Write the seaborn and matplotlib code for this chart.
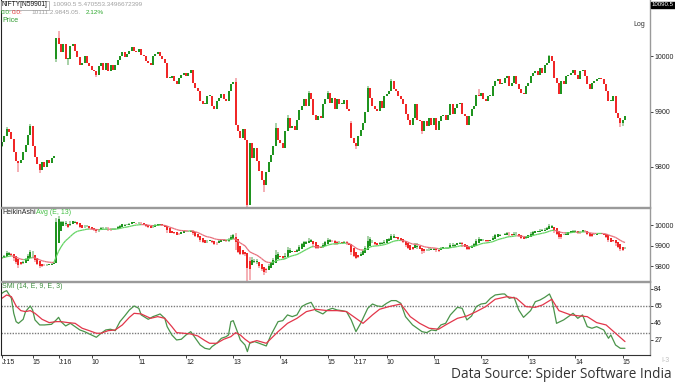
import numpy as np
import pandas as pd
import matplotlib
matplotlib.use("Agg")
import matplotlib.pyplot as plt
from matplotlib.collections import LineCollection
import seaborn as sns

# NIFTY 3-minute closes: tail of J:15, full J:16, J:17 up to 15:00
day1_close = [9845, 9856, 9868, 9862, 9850, 9826, 9810, 9806, 9812, 9826,
              9840, 9858, 9873, 9838, 9818, 9805, 9794, 9808, 9800, 9812,
              9806, 9815, 9819]
day2_close = [10034, 10022, 10007, 10022, 9995, 9995, 10019, 10022, 10010, 9998,
              9985, 9987, 10000, 9988, 9982, 9976, 9973, 9967, 9982, 9988,
              9976, 9988, 9973, 9985, 9976, 9985, 9994, 10000, 10007, 9998,
              10004, 10010, 10016, 10010, 10007, 10013, 10002, 10000, 9992, 9987,
              9985, 10000, 10004, 10007, 10001, 9995, 9988, 9961, 9961, 9964,
              9955, 9949, 9961, 9967, 9970, 9964, 9970, 9975, 9952, 9943,
              9937, 9919, 9913, 9913, 9928, 9928, 9910, 9904, 9919, 9925,
              9931, 9922, 9919, 9937, 9949, 9954, 9876, 9864, 9852, 9869,
              9849, 9731, 9843, 9816, 9834, 9810, 9792, 9776, 9767, 9791,
              9809, 9822, 9837, 9870, 9849, 9843, 9834, 9864, 9888, 9870,
              9873, 9867, 9885, 9903, 9910, 9922, 9910, 9934, 9922, 9894,
              9885, 9891, 9888, 9913, 9922, 9934, 9916, 9925, 9904, 9922,
              9913, 9913, 9920, 9905, 9901]
day3_close = [9852, 9843, 9837, 9855, 9867, 9879, 9900, 9943, 9925, 9910,
              9904, 9901, 9919, 9907, 9928, 9931, 9937, 9955, 9940, 9937,
              9928, 9922, 9913, 9895, 9885, 9876, 9888, 9913, 9885, 9882,
              9864, 9882, 9873, 9888, 9876, 9888, 9867, 9882, 9891, 9894,
              9885, 9894, 9913, 9895, 9907, 9913, 9916, 9895, 9891, 9876,
              9891, 9904, 9910, 9930, 9928, 9934, 9922, 9919, 9928, 9928,
              9946, 9955, 9958, 9949, 9952, 9961, 9964, 9946, 9952, 9964,
              9949, 9940, 9934, 9931, 9946, 9952, 9964, 9970, 9973, 9967,
              9979, 9970, 9985, 9988, 10000, 9992, 9961, 9952, 9931, 9955,
              9949, 9964, 9967, 9970, 9975, 9967, 9958, 9973, 9976, 9964,
              9949, 9940, 9952, 9955, 9958, 9961, 9958, 9949, 9937, 9919,
              9919, 9928, 9898, 9888, 9879, 9885, 9891]
first_open = 9838
day_open = {23: 9995, 148: 9880}           # gap opens at the start of each session
wick_high = {2: 9872, 12: 9877, 24: 10046, 31: 10020, 99: 9960, 116: 9880,
             121: 9893, 130: 9938, 138: 9938, 148: 9882, 155: 9946, 165: 9958,
             202: 9940, 232: 10003}
wick_low = {0: 9835, 7: 9790, 16: 9789, 23: 9990, 28: 9985, 40: 9962,
            104: 9727, 111: 9755, 150: 9832, 178: 9860, 262: 9872, 263: 9873}

# time axis labels (bar index of each label)
tick_idx = [0, 13, 24, 38, 58, 78, 98, 118, 138, 149, 163, 183, 203, 223, 243, 263]
tick_lab = ["J:15", "15", "J:16", "10", "11", "12", "13", "14", "15",
            "J:17", "10", "11", "12", "13", "14", "15"]

# SMI (14, E, 9, E, 3)
smi_idx = [0, 1, 2, 4, 5, 6, 7, 9, 10, 12, 13, 14, 16, 18, 21, 23, 24, 25, 27, 29,
           31, 33, 35, 38, 40, 42, 44, 46, 48, 50, 52, 54, 56, 58, 59, 62, 64, 66, 67, 69,
           70, 72, 74, 76, 78, 80, 82, 84, 86, 88, 89, 91, 93, 95, 96, 97, 98, 100, 101, 103,
           104, 105, 107, 109, 112, 114, 117, 119, 121, 123, 125, 127, 129, 131, 133, 136, 138, 140, 142, 144,
           146, 148, 150, 152, 155, 157, 159, 161, 163, 165, 167, 169, 171, 174, 176, 178, 180, 182, 184, 186,
           188, 190, 193, 195, 197, 199, 201, 203, 205, 207, 209, 212, 213, 215, 217, 219, 221, 224, 226, 228,
           230, 232, 233, 235, 238, 240, 242, 244, 246, 248, 250, 252, 255, 257, 258, 260, 262, 264]
smi_val = [79.2, 81.0, 82.1, 73.6, 56.8, 47.5, 45.6, 50.1, 58.7, 65.0, 60.5, 49.4, 43.8, 43.8, 44.5, 49.4, 52.3, 47.5, 42.7, 45.6,
           41.9, 38.2, 36.3, 32.6, 30.0, 34.5, 38.2, 39.0, 37.4, 47.5, 53.8, 60.5, 65.0, 62.4, 55.0, 50.1, 53.1, 55.0, 56.1, 51.2,
           41.9, 32.6, 27.0, 27.8, 32.6, 36.3, 28.9, 21.4, 17.7, 16.6, 19.6, 23.3, 28.9, 30.7, 32.6, 47.5, 48.6, 34.5, 27.0, 21.4,
           14.0, 23.3, 25.2, 23.3, 20.3, 32.6, 47.5, 48.6, 55.0, 53.1, 55.0, 64.3, 67.2, 69.1, 59.8, 56.1, 60.5, 62.4, 60.5, 59.8,
           58.7, 49.4, 36.3, 45.6, 62.4, 67.2, 65.0, 64.3, 68.0, 71.0, 71.0, 68.0, 53.1, 43.8, 40.1, 36.3, 35.2, 38.2, 37.4, 43.8,
           45.6, 55.0, 63.5, 62.4, 49.4, 53.8, 64.3, 67.2, 68.0, 73.6, 77.3, 78.4, 78.4, 73.6, 74.7, 60.5, 52.3, 59.8, 69.8, 71.7,
           74.7, 78.4, 72.5, 45.6, 49.4, 53.1, 56.8, 51.2, 55.0, 41.9, 40.1, 41.9, 38.2, 28.9, 32.6, 21.4, 17.7, 17.7]
sig_idx = [0, 2, 4, 6, 8, 10, 12, 14, 17, 20, 23, 25, 28, 31, 34, 37, 40, 42, 45, 48,
           51, 54, 56, 59, 63, 66, 69, 72, 74, 77, 80, 83, 86, 88, 91, 94, 97, 99, 101, 103,
           105, 108, 112, 117, 121, 125, 129, 133, 138, 142, 146, 150, 153, 157, 160, 164, 169, 173, 177, 181,
           185, 188, 193, 197, 201, 205, 209, 214, 218, 222, 226, 229, 233, 236, 241, 245, 248, 252, 256, 260, 264]
sig_val = [73.6, 77.3, 75.4, 65.0, 59.8, 58.7, 59.8, 56.8, 50.1, 46.4, 47.5, 47.5, 46.4, 45.6, 40.1, 37.4, 34.5, 34.5, 37.4, 38.2,
           43.8, 52.3, 56.8, 56.1, 51.2, 53.1, 51.2, 41.9, 35.2, 34.5, 33.7, 31.5, 26.3, 23.3, 23.3, 27.8, 30.7, 35.2, 32.6, 27.8,
           24.0, 26.3, 23.3, 36.3, 45.6, 51.2, 58.7, 61.3, 59.8, 59.8, 58.7, 51.2, 45.6, 55.0, 61.3, 64.3, 67.2, 53.1, 45.6, 40.1,
           39.0, 43.8, 51.2, 53.8, 58.7, 64.3, 72.5, 75.4, 73.6, 64.3, 63.5, 66.1, 72.5, 59.8, 55.0, 53.8, 53.1, 46.4, 43.8, 34.5, 25.2]

GREEN, GREEN_L = "#0b8a0b", "#9ccc9c"
RED, RED_L = "#f01212", "#f4a6ab"

# build OHLC table
close = np.array(day1_close + day2_close + day3_close, dtype=float)
n = len(close)
opn = np.r_[first_open, close[:-1]]
for i, v in day_open.items():
    opn[i] = v
high = np.maximum(opn, close)
low = np.minimum(opn, close)
for i, v in wick_high.items():
    high[i] = max(high[i], v)
for i, v in wick_low.items():
    low[i] = min(low[i], v)
bars = pd.DataFrame({"open": opn, "high": high, "low": low, "close": close})

# Heikin-Ashi + 13 EMA
ha_c = bars[["open", "high", "low", "close"]].mean(axis=1).to_numpy()
ha_o = np.empty(n)
ha_o[0] = (opn[0] + close[0]) / 2
for i in range(1, n):
    ha_o[i] = (ha_o[i - 1] + ha_c[i - 1]) / 2
ha_h = np.maximum.reduce([high, ha_o, ha_c])
ha_l = np.minimum.reduce([low, ha_o, ha_c])
ema = pd.Series(ha_c).ewm(span=13, adjust=False).mean().to_numpy()

sns.set_style("white")
plt.rcParams["font.family"] = ["Liberation Sans", "DejaVu Sans"]

W, H = 675, 386
fig = plt.figure(figsize=(W / 100, H / 100), dpi=100)
fig.patch.set_facecolor("white")


def px_axes(x0, y0, x1, y1):
    return fig.add_axes([x0 / W, 1 - y1 / H, (x1 - x0) / W, (y1 - y0) / H])


def candles(ax, o, h, l, c):
    x = np.arange(len(c))
    up = c >= o
    lo = np.minimum(o, c)
    hi = np.maximum(np.maximum(o, c), lo + 2)
    for m, dark, light in [(up, GREEN, GREEN_L), (~up, RED, RED_L)]:
        ax.vlines(x[m], l[m], h[m], color=light, lw=1.25)
        ax.vlines(x[m], lo[m], hi[m], color=dark, lw=1.25)


def style(ax, ylim, yticks):
    ax.set_xlim(-0.4, 274.6)
    ax.set_ylim(*ylim)
    ax.yaxis.tick_right()
    ax.set_yticks(yticks)
    ax.set_yticklabels([str(t) for t in yticks])
    ax.tick_params(axis="y", direction="out", length=2, width=0.6, pad=1,
                   labelsize=5, colors="#222222")
    ax.tick_params(axis="x", bottom=False, labelbottom=False)
    ax.spines["left"].set_color("#222222")
    ax.spines["left"].set_linewidth(0.8)
    for s in ["right", "top", "bottom"]:
        ax.spines[s].set_color("#9a9a9a")
        ax.spines[s].set_linewidth(1.0)
    ax.grid(False)


ax_p = px_axes(1, 0, 650, 207)
ax_h = px_axes(1, 208, 650, 281)
ax_s = px_axes(1, 282, 650, 355)

# price panel
candles(ax_p, opn, high, low, close)
style(ax_p, (9727, 10102), [10000, 9900, 9800])
ax_p.spines["top"].set_visible(False)

# heikin-ashi panel
candles(ax_h, ha_o, ha_h, ha_l, ha_c)
pts = np.column_stack([np.arange(n), ema])
segs = np.stack([pts[:-1], pts[1:]], axis=1)
seg_col = np.where(ha_c[1:] >= ema[1:], "#63d463", "#e8707c")
ax_h.add_collection(LineCollection(segs, colors=seg_col, linewidths=0.9))
style(ax_h, (9727, 10083), [10000, 9900, 9800])

# SMI panel
ax_s.axhline(65, color="#7a7a7a", lw=1.0, ls=(0, (1, 1)))
ax_s.axhline(35, color="#7a7a7a", lw=1.0, ls=(0, (1, 1)))
sns.lineplot(x=smi_idx, y=smi_val, ax=ax_s, color="#4a944a", lw=0.9)
sns.lineplot(x=sig_idx, y=sig_val, ax=ax_s, color="#e2364a", lw=0.9)
style(ax_s, (10.2, 91.8), [84, 65, 46, 27])
ax_s.spines["bottom"].set_color("#333333")
ax_s.spines["bottom"].set_linewidth(0.8)
ax_s.set_xticks(tick_idx)
ax_s.set_xticklabels(tick_lab, ha="left")
ax_s.tick_params(axis="x", bottom=True, labelbottom=True, direction="out",
                 length=2.5, width=0.6, pad=0.5, labelsize=5, colors="#222222")
ax_s.set_xlabel("")
ax_s.set_ylabel("")


def ftext(x, y, s, **kw):
    kw.setdefault("fontsize", 5)
    kw.setdefault("va", "center")
    fig.text(x / W, 1 - y / H, s, **kw)


# header texts
ftext(2, 5, "NIFTY[N59901]", color="#111111", fontsize=4.8,
      bbox=dict(boxstyle="square,pad=0.15", fc="white", ec="#9a9a9a", lw=0.5))
ftext(53, 5, "10090.5 5.470553.3496672399", color="#a0a0a0", fontsize=4.6)
ftext(1, 13, "0.0:", color="#2fa82f", fontsize=4.6)
ftext(12, 13, "0.0:", color="#e03030", fontsize=4.6)
ftext(31, 13, "10111.2.9845.05.", color="#a0a0a0", fontsize=4.6)
ftext(86, 13, "2.12%", color="#2fa82f", fontsize=4.6)
ftext(2, 21, "Price", color="#2f9a2f")
ftext(2, 213, "HeikinAshi", color="#222222")
ftext(36, 213, "Avg (E, 13)", color="#45c045")
ftext(2, 286, "SMI (14, E, 9, E, 3)", color="#3f8f3f")
ftext(633, 24, "Log", color="#333333")
ftext(652, 5, "10090.5", color="white", fontsize=4.4,
      bbox=dict(boxstyle="square,pad=0.15", fc="black", ec="black"))
ftext(661, 361, "I-3", color="#c0c0c0")
ftext(672, 375, "Data Source: Spider Software India", ha="right",
      fontsize=9.8, family="Open Sans", color="#333333")

fig.savefig("out.png", dpi=100, facecolor="white")
